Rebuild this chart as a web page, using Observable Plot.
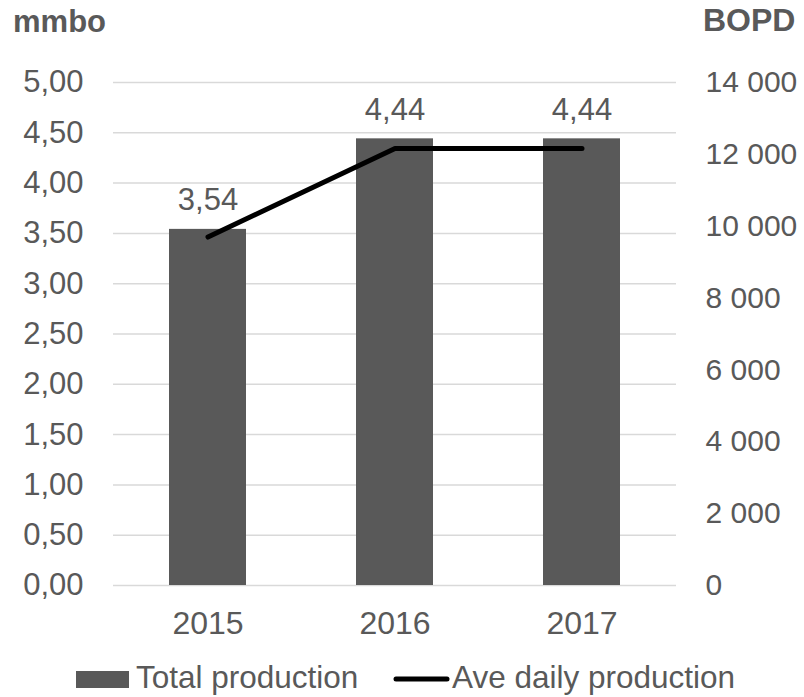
<!DOCTYPE html>
<html>
<head>
<meta charset="utf-8">
<script src="https://cdn.jsdelivr.net/npm/d3@7"></script>
<script src="https://cdn.jsdelivr.net/npm/@observablehq/plot@0.6"></script>
<style>
  html, body { margin: 0; padding: 0; background: #fff; }
  #chart { width: 804px; height: 697px; }
  svg { font-family: "Liberation Sans", Arial, sans-serif; }
</style>
</head>
<body>
<div id="chart"></div>
<script>
const years = ["2015", "2016", "2017"];
const totalProduction = [3.54, 4.44, 4.44];      // mmbo (left axis)
const aveDailyProduction = [9699, 12164, 12164]; // BOPD (right axis)
const leftTicks = [0, 0.5, 1, 1.5, 2, 2.5, 3, 3.5, 4, 4.5, 5];
const rightTicks = [0, 2000, 4000, 6000, 8000, 10000, 12000, 14000];
const leftTitle = "mmbo";
const rightTitle = "BOPD";
const legendLabels = ["Total production", "Ave daily production"];

const leftMax = 5, rightMax = 14000;
const ratio = rightMax / leftMax;

const data = years.map((y, i) => ({year: y, mmbo: totalProduction[i], bopd: aveDailyProduction[i]}));

const fmtLeft = d => d.toFixed(2).replace(".", ",");
const fmtRight = v => String(Math.round(v)).replace(/\B(?=(\d{3})+(?!\d))/g, " ");

const W = 804, H = 697;
const mL = 113, mR = 128, mT = 82, mB = 112;
const textColor = "#595959";

const plot = Plot.plot({
  width: W,
  height: H,
  marginLeft: mL,
  marginRight: mR,
  marginTop: mT,
  marginBottom: mB,
  style: {fontFamily: '"Liberation Sans", Arial, sans-serif', fontSize: "31px", color: textColor, background: "#fff"},
  x: {domain: years, paddingInner: 0.59, paddingOuter: 0.295, label: null},
  y: {domain: [0, leftMax], label: null},
  marks: [
    Plot.gridY(leftTicks, {stroke: "#d9d9d9", strokeOpacity: 1, strokeWidth: 1.5}),
    Plot.barY(data, {x: "year", y: "mmbo", fill: "#595959"}),
    Plot.line(data, {x: "year", y: d => d.bopd / ratio, stroke: "#000", strokeWidth: 5, strokeLinecap: "round", strokeLinejoin: "round"}),
    Plot.text(data, {x: "year", y: "mmbo", text: d => fmtLeft(d.mmbo), dy: -29, fill: textColor, fontSize: 31, lineAnchor: "middle"}),
    Plot.axisY({ticks: leftTicks, anchor: "left", tickSize: 0, tickPadding: 30, tickFormat: fmtLeft, fontSize: 31, fill: textColor, label: null}),
    Plot.axisY({ticks: rightTicks.map(v => v / ratio), anchor: "right", tickSize: 0, tickPadding: 29, tickFormat: d => fmtRight(d * ratio), fontSize: 30, fill: textColor, label: null}),
    Plot.axisX({anchor: "bottom", tickSize: 0, tickPadding: 26, fontSize: 32, fill: textColor, label: null})
  ]
});

document.getElementById("chart").appendChild(plot);

const svg = d3.select(plot);
// axis titles
svg.append("text").attr("x", 13).attr("y", 32).attr("font-size", 31).attr("font-weight", "bold")
  .attr("text-anchor", "start").attr("fill", textColor).text(leftTitle);
svg.append("text").attr("x", 703).attr("y", 31).attr("font-size", 32).attr("font-weight", "bold")
  .attr("text-anchor", "start").attr("fill", textColor).text(rightTitle);

// legend
const lg = svg.append("g").attr("text-anchor", "start");
lg.append("rect").attr("x", 76).attr("y", 671).attr("width", 53).attr("height", 17).attr("fill", "#595959");
lg.append("text").attr("x", 136).attr("y", 688).attr("font-size", 31.5).attr("fill", textColor).text(legendLabels[0]);
lg.append("line").attr("x1", 396).attr("x2", 447).attr("y1", 679).attr("y2", 679)
  .attr("stroke", "#000").attr("stroke-width", 5).attr("stroke-linecap", "round");
lg.append("text").attr("x", 452).attr("y", 688).attr("font-size", 31.5).attr("fill", textColor).text(legendLabels[1]);
</script>
</body>
</html>
